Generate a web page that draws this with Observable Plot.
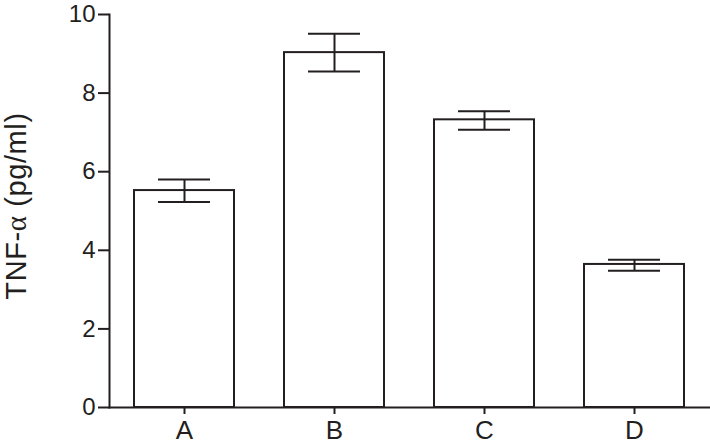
<!DOCTYPE html>
<html><head><meta charset="utf-8">
<script src="https://cdn.jsdelivr.net/npm/d3@7"></script>
<script src="https://cdn.jsdelivr.net/npm/@observablehq/plot@0.6"></script>
<style>
body{margin:0;background:#fff}
</style>
</head><body><div id="chart"></div>
<script>
const groups = ["A", "B", "C", "D"];
const means = [5.52, 9.03, 7.32, 3.64];
const errLow = [5.23, 8.55, 7.07, 3.48];
const errHigh = [5.80, 9.51, 7.54, 3.76];
const yTicks = [0, 2, 4, 6, 8, 10];
const yLabel = "TNF-α (pg/ml)";

const data = groups.map((g, i) => ({group: g, mean: means[i], lo: errLow[i], hi: errHigh[i]}));
const ink = "#231f20";

const chart = Plot.plot({
  width: 710, height: 447,
  marginLeft: 109, marginRight: 1, marginTop: 14, marginBottom: 40,
  style: {fontFamily: "'Liberation Sans', Arial, sans-serif", fontSize: "26px", color: ink, background: "#fff"},
  x: {domain: groups, paddingInner: 1/3, paddingOuter: 1/6, label: null},
  y: {domain: [0, 10], label: yLabel},
  marks: [
    Plot.barY(data, {x: "group", y: "mean", fill: "white", stroke: ink, strokeWidth: 2}),
    Plot.ruleX(data, {x: "group", y1: "lo", y2: "hi", stroke: ink, strokeWidth: 2}),
    Plot.tickY(data, {x: "group", y: "lo", stroke: ink, strokeWidth: 2, insetLeft: 24, insetRight: 24}),
    Plot.tickY(data, {x: "group", y: "hi", stroke: ink, strokeWidth: 2, insetLeft: 24, insetRight: 24}),
    Plot.frame({anchor: "bottom", stroke: ink, strokeWidth: 2}),
    Plot.frame({anchor: "left", stroke: ink, strokeWidth: 2}),
    Plot.axisX({tickSize: 7, tickPadding: 6, strokeWidth: 2, fontSize: 26, label: null}),
    Plot.axisY({ticks: yTicks, tickSize: 11, tickPadding: 3, strokeWidth: 2, fontSize: 24,
      label: yLabel, labelAnchor: "center", labelArrow: "none", labelOffset: 104})
  ]
});
document.getElementById("chart").appendChild(chart);
d3.select(chart).selectAll("text").filter(function() { return this.textContent === yLabel; })
  .attr("dx", 5)
  .style("font-size", "29px")
  .style("letter-spacing", "0.6px")
  .each(function() {
    const t = d3.select(this);
    t.text(null);
    t.append("tspan").text("TNF-");
    t.append("tspan").style("font-family", "'Liberation Serif', serif").text("α");
    t.append("tspan").text(" (pg/ml)");
  });
</script>
</body></html>
